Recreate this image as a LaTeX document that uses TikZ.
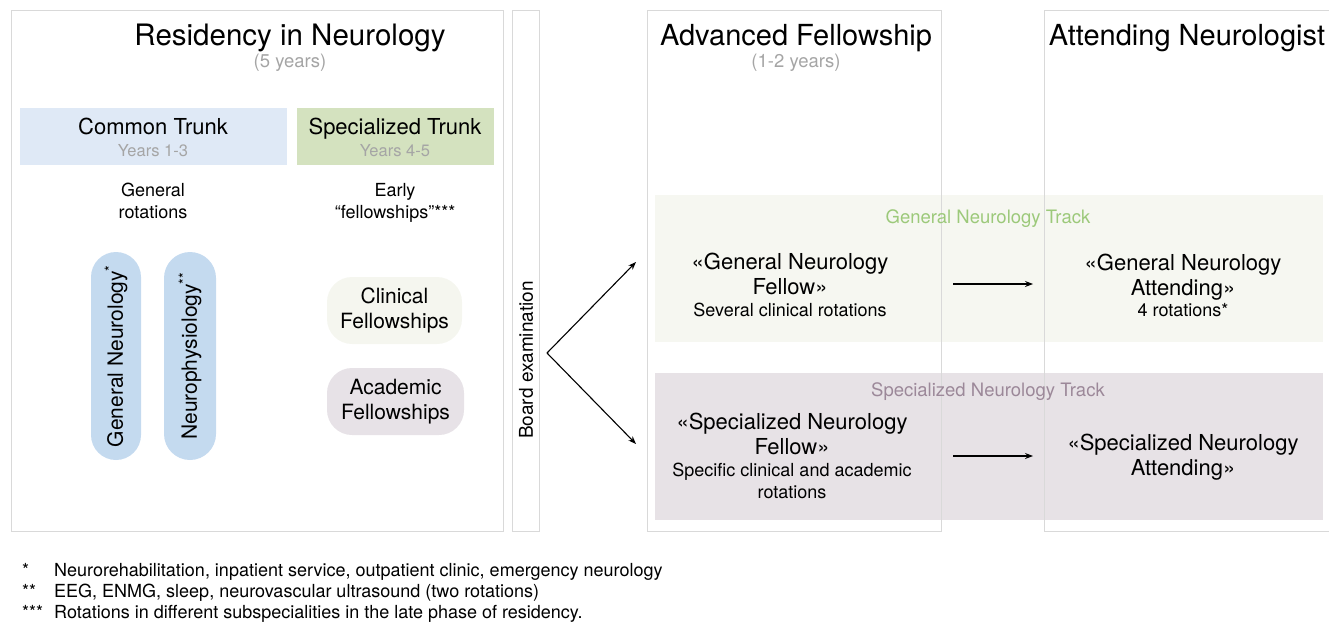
\documentclass[tikz,border=0pt]{standalone}
\usepackage{fontspec}
\setmainfont{TeX Gyre Heros}
\usepackage{tikz}
\usetikzlibrary{positioning, arrows.meta}
\definecolor{marco}{HTML}{D9D9D9}
\definecolor{gristxt}{HTML}{A5A5A5}
\definecolor{azulT}{HTML}{DFE9F6}
\definecolor{verdeT}{HTML}{D4E2BF}
\definecolor{azulP}{HTML}{C4DAEF}
\definecolor{clinF}{HTML}{F5F6EF}
\definecolor{acadF}{HTML}{E7E2E7}
\definecolor{bandaGen}{HTML}{F6F7F1}
\definecolor{bandaEsp}{HTML}{E7E2E6}
\definecolor{verdeTxt}{HTML}{9CC97A}
\definecolor{moradoTxt}{HTML}{9C8899}
\tikzset{
	>={Stealth[length=8pt, width=6pt]}, % Puntas de flecha rellenas
	x=1pt, y=-1pt, % Un punto por pixel, y hacia abajo
	every node/.style={inner sep=0pt, align=center}, % Nodos de texto sin margen
	caja/.style={draw=marco, line width=1.2pt, anchor=north west}, % Marcos de las etapas
	titulo/.style={font=\fontsize{29}{34}\selectfont}, % Titulos de las etapas
	gris/.style={text=gristxt, font=\fontsize{16.5}{20}\selectfont}, % Anos en gris
	normal/.style={font=\fontsize{18}{22}\selectfont}, % Texto corriente
	grande/.style={font=\fontsize{22}{24.5}\selectfont}, % Nombres de los puestos
	pildora/.style={fill=azulP, rotate=90, minimum width=208pt, font=\fontsize{21}{25}\selectfont}, % Rotaciones generales
	beca/.style={rounded corners=25pt, minimum height=67pt, font=\fontsize{21}{25}\selectfont}, % Becas tempranas
	banda/.style={minimum width=668pt, minimum height=147pt}, % Fondo de cada via
	flecha/.style={->, line width=1.1pt} % Conectores
}

\begin{document}
\begin{tikzpicture}
	\useasboundingbox (0,0) rectangle (1329,621);
	% vias de la derecha
	\node[banda, fill=bandaGen] (gtrack) at (989,268.5) {};
	\node[banda, fill=bandaEsp] (strack) at (989,446.5) {};
	% marcos
	\node[caja, minimum width=492pt, minimum height=521pt] (res) at (11,10) {};
	\node[caja, minimum width=27pt, minimum height=521pt] (board) at (512,10) {};
	\node[caja, minimum width=294pt, minimum height=521pt] (adv) at (647,10) {};
	\node[caja, minimum width=300pt, minimum height=521pt] (att) at (1044,10) {};
	% titulos
	\node[titulo, anchor=base, font=\fontsize{29.5}{34}\selectfont] (resT) at (290,45) {Residency in Neurology};
	\node[gris, below of=resT, node distance=25pt, font=\fontsize{18.5}{22}\selectfont] (resY) {(5 years)};
	\node[titulo, anchor=base] (advT) at (796,45) {Advanced Fellowship};
	\node[gris, below of=advT, node distance=25pt, font=\fontsize{18.5}{22}\selectfont] (advY) {(1-2 years)};
	\node[titulo, anchor=base] (attT) at (1187,45) {Attending Neurologist};
	% troncos
	\node[fill=azulT, minimum width=267pt, minimum height=57pt] (ct) at (153.5,136.5) {};
	\node[fill=verdeT, minimum width=197pt, minimum height=57pt] (st) at (395.5,136.5) {};
	\node[grande, anchor=base] (ctT) at (153,134) {Common Trunk};
	\node[gris, anchor=base] (ctY) at (153,156) {Years 1-3};
	\node[grande, anchor=base] (stT) at (395,134) {Specialized Trunk};
	\node[gris, anchor=base] (stY) at (395,156) {Years 4-5};
	\node[normal] (genRot) at (153,201) {General\\rotations};
	\node[normal] (early) at (395,203) {Early\\“fellowships”***};
	% rotaciones y becas
	\node[pildora, minimum height=50pt, rounded corners=25pt] (gnP) at (116,356) {General Neurology\textsuperscript{*}};
	\node[pildora, minimum height=52pt, rounded corners=26pt] (npP) at (190,356) {Neurophysiology\textsuperscript{**}};
	\node[beca, fill=clinF, minimum width=135pt] (clin) at (394.5,310.5) {Clinical\\Fellowships};
	\node[beca, fill=acadF, minimum width=137pt] (acad) at (395.5,401.5) {Academic\\Fellowships};
	% examen
	\node[rotate=90, font=\fontsize{19}{22}\selectfont] (boardT) at (526,360) {Board examination};
	\coordinate (split) at (547,353);
	\coordinate (upTip) at (636,262);
	\coordinate (downTip) at (636,444);
	\draw[flecha] (split) -- (upTip);
	\draw[flecha] (split) -- (downTip);
	% via general
	\node[anchor=base, text=verdeTxt, font=\fontsize{18.5}{22}\selectfont] (gtT) at (988,223) {General Neurology Track};
	\node[grande] (gnf) at (790,274) {«General Neurology\\Fellow»};
	\node[normal, below of=gnf, node distance=36pt] (gnfS) {Several clinical rotations};
	\node[grande] (gna) at (1183,277) {«General Neurology\\Attending»};
	\node[normal, below of=gna, node distance=33pt] (gnaS) {4 rotations*};
	\coordinate (gA) at (953,284);
	\coordinate (gB) at (1033,284);
	\draw[flecha] (gA) -- (gB);
	% via especializada
	\node[anchor=base, text=moradoTxt, font=\fontsize{18.5}{22}\selectfont] (stT2) at (988,396) {Specialized Neurology Track};
	\node[grande] (snf) at (792,434) {«Specialized Neurology\\Fellow»};
	\node[normal, below of=snf, node distance=47pt] (snfS) {Specific clinical and academic\\rotations};
	\node[grande] (sna) at (1183,457) {«Specialized Neurology\\Attending»};
	\coordinate (sA) at (953,456);
	\coordinate (sB) at (1033,456);
	\draw[flecha] (sA) -- (sB);
	% notas
	\node[normal, anchor=base west] (m1) at (22,576) {*};
	\node[normal, anchor=base west] (n1) at (54,576) {Neurorehabilitation, inpatient service, outpatient clinic, emergency neurology};
	\node[normal, anchor=base west] (m2) at (22,597) {**};
	\node[normal, anchor=base west] (n2) at (54,597) {EEG, ENMG, sleep, neurovascular ultrasound (two rotations)};
	\node[normal, anchor=base west] (m3) at (22,618) {***};
	\node[normal, anchor=base west] (n3) at (54,618) {Rotations in different subspecialities in the late phase of residency.};
\end{tikzpicture}
\end{document}
